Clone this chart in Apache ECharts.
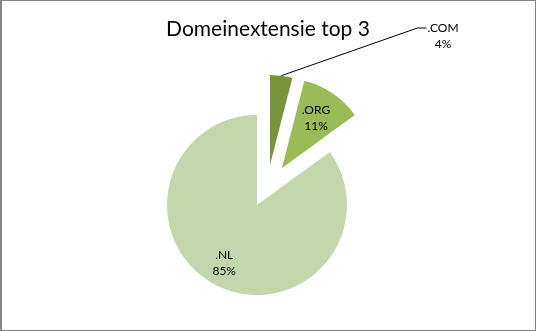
<!DOCTYPE html>
<html>
<head>
<meta charset="utf-8">
<script src="https://cdn.jsdelivr.net/npm/echarts@6/dist/echarts.min.js"></script>
<style>
  html, body { margin: 0; padding: 0; background: #fff; }
  #wrap { position: relative; width: 536px; height: 331px; }
  #chart { position: absolute; left: 0; top: 0; width: 536px; height: 331px; }
  #frame { position: absolute; left: 0; top: 0; width: 536px; height: 331px; box-sizing: border-box;
           border: 1px solid #868686; border-left-width: 2px; pointer-events: none; }
</style>
</head>
<body>
<div id="wrap"><div id="chart"></div><div id="frame"></div></div>
<script>
// ---- data ----
var titleText = 'Domeinextensie top 3';
var categories = ['.COM', '.ORG', '.NL'];
var values = [4, 11, 85];
var percentLabels = ['4%', '11%', '85%'];

// ---- style ----
var colors = ['#77933C', '#9BBB59', '#C4D6AC'];
var centers = [[270, 165], [282, 168], [257, 205]];   // exploded slices
var radius = 90;
var labelPos = ['outside', 'inside', 'inside'];
var labelShift = [null, [7, -10], [-11, 15]];
var FONT = 'Lato, "Liberation Sans", sans-serif';

var chart = echarts.init(document.getElementById('chart'), null, { renderer: 'canvas' });

function makeSeries(k) {
  return {
    type: 'pie',
    silent: true,
    animation: false,
    avoidLabelOverlap: false,
    center: centers[k],
    radius: [0, radius],
    startAngle: 90,
    clockwise: true,
    data: categories.map(function (c, i) {
      return {
        name: c,
        value: values[i],
        itemStyle: { color: i === k ? colors[i] : 'rgba(0,0,0,0)' },
        label: { show: i === k },
        labelLine: { show: i === k && labelPos[k] === 'outside' }
      };
    }),
    label: {
      position: labelPos[k],
      formatter: function (p) { return categories[p.dataIndex] + '\n' + percentLabels[p.dataIndex]; },
      fontFamily: FONT,
      fontSize: 12,
      lineHeight: 16,
      color: '#000',
      align: 'center'
    },
    labelLine: {
      length: 20, length2: 10,
      lineStyle: { color: '#000', width: 1 }
    },
    labelLayout: function (p) {
      if (p.dataIndex !== k) return {};
      if (labelPos[k] === 'inside') {
        return { dx: labelShift[k][0], dy: labelShift[k][1], align: 'center' };
      }
      // outside label (.COM) placed up-right, line drawn from arc point
      var lx = 443, ly = 36;
      var w = p.labelRect.width, h = p.labelRect.height;
      var start = p.labelLinePoints ? p.labelLinePoints[0] : [0, 0];
      var endX = lx - w / 2 - 1, endY = ly - h / 2 + 8;
      return {
        x: lx, y: ly, align: 'center', verticalAlign: 'middle',
        labelLinePoints: [start, [endX - 9, endY], [endX, endY]]
      };
    }
  };
}

chart.setOption({
  backgroundColor: '#fff',
  title: {
    text: titleText,
    left: 'center',
    top: 14,
    textStyle: { fontFamily: FONT, fontSize: 21, fontWeight: 'normal', color: '#000' }
  },
  series: [makeSeries(2), makeSeries(1), makeSeries(0)]
});
</script>
</body>
</html>
